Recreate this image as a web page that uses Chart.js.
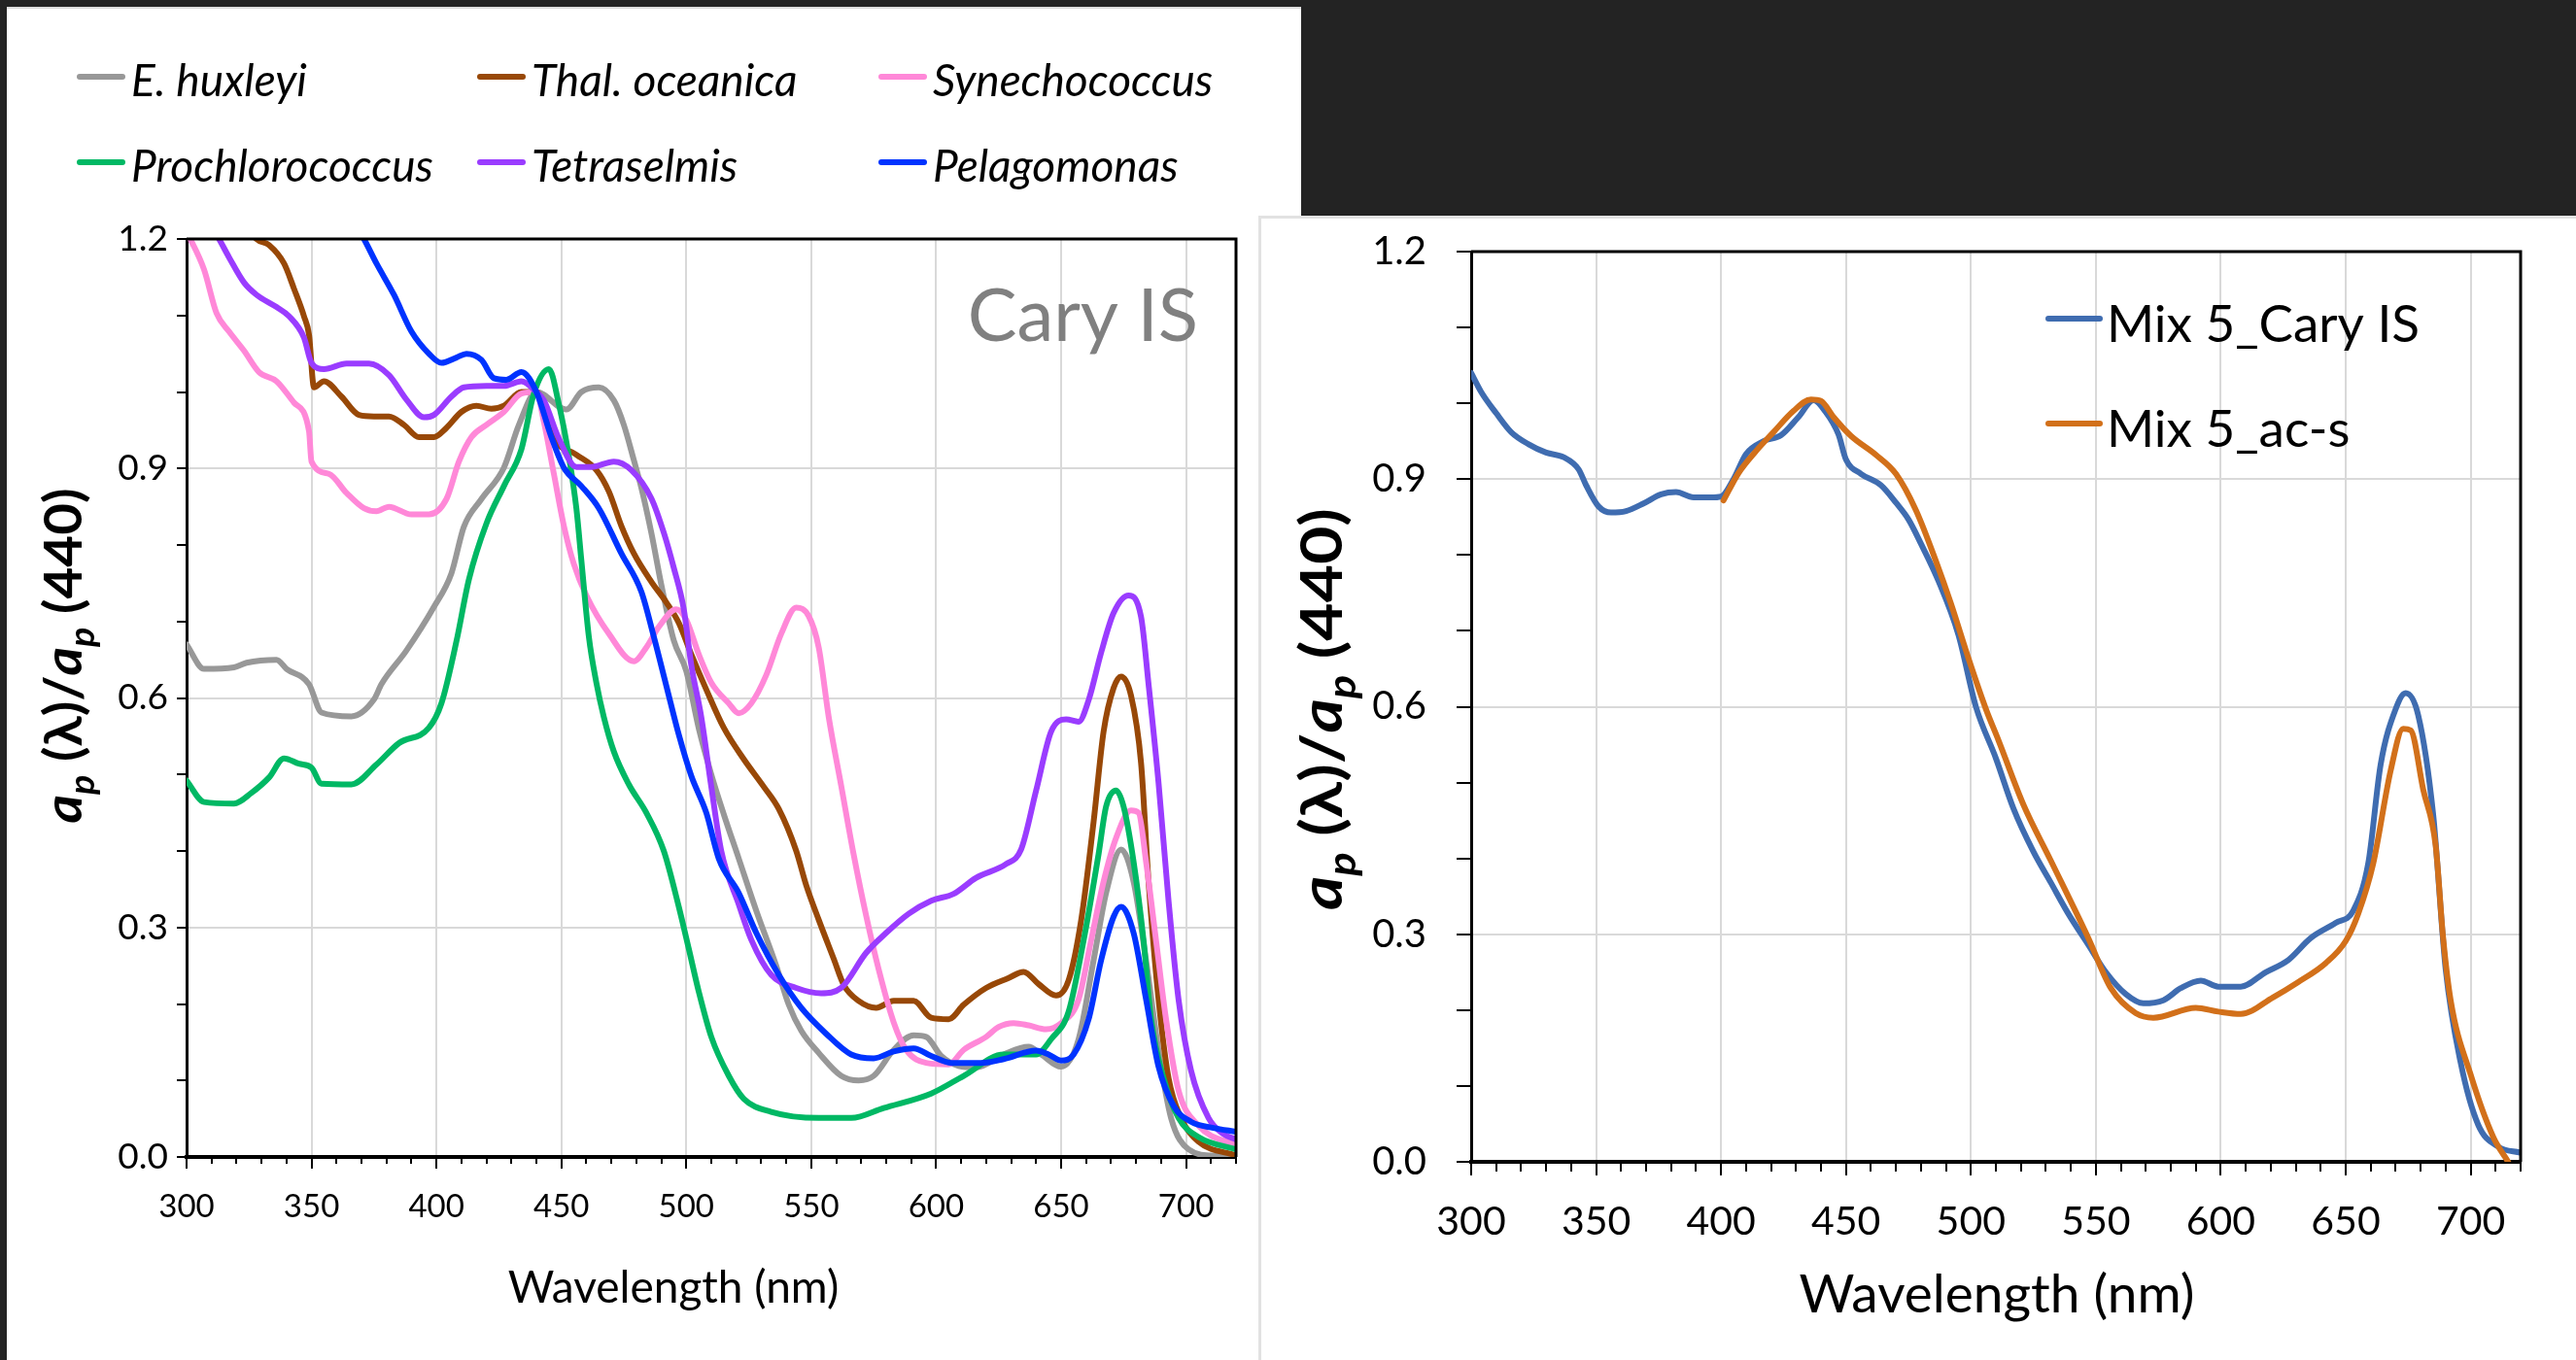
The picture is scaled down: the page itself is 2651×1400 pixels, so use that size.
<!DOCTYPE html>
<html>
<head>
<meta charset="utf-8">
<title>Normalized absorption spectra</title>
<script src="https://cdn.jsdelivr.net/npm/chart.js@4.4.1/dist/chart.umd.min.js"></script>
<style>
  html, body { margin: 0; padding: 0; background: #232323; }
  body { width: 2651px; height: 1400px; position: relative; overflow: hidden; font-family: Lato, sans-serif; }
  .panel { position: absolute; background: #fff; }
  #leftPanel { left: 7px; top: 7px; width: 1332px; height: 1393px; box-shadow: inset 0 2px 0 #dedede; }
  #rightPanel { left: 1295px; top: 222px; width: 1356px; height: 1178px; box-shadow: inset 3px 3px 0 #e2e2e2; }
  canvas { position: absolute; left: 0; top: 0; }
</style>
</head>
<body>
<div class="panel" id="leftPanel"><canvas id="left-chart" width="1332" height="1393"></canvas></div>
<div class="panel" id="rightPanel"><canvas id="right-chart" width="1356" height="1178"></canvas></div>
<script>
"use strict";

// axis ticks
let wlTicks = [300, 350, 400, 450, 500, 550, 600, 650, 700];
let apTicks = [0.0, 0.3, 0.6, 0.9, 1.2];

// wavelengths (nm) and a_p(λ)/a_p(440)

let huxleyiWl = [300,307,319,324,336,340,349,354,366,375,378,388,399,406,411,418,427,433,440,452,458,465,471,475,479,482,486,490,495,500,505,510,515,521,528,536,541,546,553,562,569,575,583,591,596,602,609,616,627,637,642,650,657,663,668,674,679,684,689,694,701,711,720];
let huxleyiAp = [0.670,0.638,0.640,0.646,0.650,0.638,0.618,0.581,0.576,0.598,0.618,0.662,0.719,0.763,0.824,0.860,0.901,0.957,1.000,0.977,1.000,1.006,0.989,0.957,0.911,0.875,0.816,0.748,0.675,0.635,0.560,0.500,0.448,0.390,0.322,0.250,0.199,0.165,0.136,0.106,0.100,0.106,0.140,0.159,0.157,0.132,0.119,0.117,0.134,0.144,0.134,0.118,0.154,0.257,0.345,0.402,0.360,0.257,0.139,0.051,0.010,0.002,0.002];

let thalWl = [300,315,328,333,339,343,347,349,351,355,362,369,375,381,387,393,399,404,410,416,422,427,434,440,447,456,464,469,474,479,486,492,497,502,508,515,523,531,537,544,548,553,559,563,569,576,583,591,598,605,611,620,629,635,641,648,653,658,663,667,671,674,678,682,685,689,693,698,705,720];
let thalAp = [1.32,1.26,1.20,1.192,1.168,1.135,1.099,1.075,1.006,1.014,0.994,0.970,0.968,0.968,0.957,0.941,0.941,0.953,0.974,0.982,0.978,0.982,1.000,1.000,0.939,0.918,0.898,0.870,0.825,0.789,0.752,0.725,0.698,0.657,0.611,0.561,0.520,0.484,0.455,0.400,0.355,0.310,0.259,0.225,0.204,0.195,0.204,0.204,0.182,0.180,0.199,0.221,0.234,0.242,0.226,0.211,0.231,0.309,0.438,0.556,0.613,0.628,0.603,0.515,0.360,0.206,0.103,0.051,0.020,0.002];

let synWl = [300,307,312,317,323,329,336,343,349,350,357,364,371,376,381,390,397,404,409,414,420,427,434,440,443,447,451,455,460,469,479,484,489,496,500,505,510,517,521,526,532,538,544,549,553,557,562,567,572,577,583,588,596,605,611,620,625,631,637,644,650,657,662,667,672,678,681,684,688,692,697,705,720];
let synAp = [1.21,1.16,1.103,1.079,1.054,1.026,1.014,0.986,0.949,0.909,0.893,0.868,0.848,0.844,0.850,0.840,0.840,0.860,0.909,0.941,0.957,0.974,0.998,1.000,0.961,0.893,0.825,0.775,0.734,0.684,0.648,0.666,0.693,0.716,0.702,0.657,0.620,0.593,0.580,0.593,0.630,0.684,0.718,0.707,0.666,0.575,0.485,0.395,0.315,0.245,0.176,0.140,0.123,0.121,0.140,0.157,0.170,0.175,0.172,0.167,0.175,0.206,0.283,0.360,0.417,0.453,0.450,0.386,0.283,0.180,0.087,0.041,0.015];

let prochWl = [300,307,319,326,333,339,345,350,354,366,376,385,397,402,408,413,420,427,434,439,445,449,453,456,458,461,464,467,471,477,484,491,497,501,505,510,517,523,534,553,566,579,598,611,627,640,646,653,659,665,668,672,675,679,683,686,691,697,705,720];
let prochAp = [0.492,0.464,0.462,0.476,0.496,0.521,0.514,0.509,0.488,0.487,0.513,0.541,0.561,0.593,0.674,0.755,0.828,0.877,0.925,0.998,1.030,0.984,0.916,0.848,0.780,0.680,0.620,0.575,0.530,0.487,0.450,0.400,0.327,0.272,0.216,0.157,0.106,0.076,0.059,0.051,0.051,0.064,0.083,0.106,0.134,0.134,0.154,0.190,0.283,0.396,0.458,0.479,0.458,0.386,0.283,0.180,0.103,0.051,0.026,0.010];

let tetraWl = [300,313,317,323,328,336,341,347,350,355,364,373,381,388,395,399,406,411,420,427,434,440,443,449,456,462,471,478,486,491,495,499,502,506,510,514,521,526,534,544,554,562,572,580,589,598,607,616,628,634,640,646,652,657,661,666,671,677,682,685,689,693,697,702,709,715,720];
let tetraAp = [1.27,1.20,1.176,1.143,1.127,1.111,1.099,1.071,1.038,1.030,1.037,1.037,1.022,0.990,0.967,0.970,0.994,1.006,1.008,1.008,1.014,1.000,0.989,0.939,0.902,0.902,0.909,0.898,0.861,0.816,0.770,0.716,0.643,0.575,0.484,0.400,0.330,0.284,0.238,0.221,0.214,0.221,0.267,0.293,0.318,0.335,0.344,0.365,0.383,0.402,0.479,0.556,0.572,0.569,0.597,0.659,0.711,0.734,0.706,0.618,0.489,0.335,0.206,0.113,0.051,0.030,0.023];

let pelagoWl = [300,340,371,376,383,390,397,402,408,412,418,423,428,434,440,446,451,458,465,474,482,487,492,497,502,508,513,521,528,537,546,556,566,575,583,591,598,606,618,627,640,645,650,655,661,666,671,674,679,684,689,695,702,711,720];
let pelagoAp = [1.58,1.37,1.20,1.168,1.127,1.079,1.050,1.038,1.045,1.050,1.042,1.018,1.016,1.026,1.000,0.941,0.901,0.877,0.848,0.789,0.739,0.680,0.616,0.552,0.498,0.450,0.390,0.345,0.293,0.238,0.195,0.161,0.134,0.129,0.138,0.142,0.132,0.123,0.123,0.128,0.139,0.134,0.126,0.134,0.180,0.257,0.314,0.327,0.293,0.206,0.118,0.067,0.046,0.038,0.033];

let caryWl = [300,304,310,316,323,330,337,343,346,351,356,362,369,376,382,389,396,400,405,410,417,424,431,437,442,447,450,456,464,470,475,480,487,495,502,510,517,525,532,539,547,554,562,569,577,584,592,599,608,618,627,636,646,653,659,664,670,674,679,685,690,696,703,711,720];
let caryAp = [1.040,1.015,0.987,0.962,0.946,0.935,0.929,0.913,0.892,0.864,0.856,0.858,0.868,0.880,0.883,0.876,0.876,0.877,0.900,0.933,0.950,0.958,0.982,1.004,0.988,0.959,0.926,0.907,0.892,0.869,0.847,0.815,0.766,0.695,0.600,0.532,0.466,0.409,0.368,0.327,0.286,0.250,0.221,0.209,0.213,0.229,0.239,0.231,0.231,0.250,0.266,0.295,0.315,0.331,0.393,0.524,0.597,0.618,0.589,0.458,0.254,0.131,0.049,0.020,0.012];

let acsWl = [401,407,414,421,429,436,440,445,452,462,470,478,486,492,499,506,511,521,532,547,556,566,573,590,599,608,621,631,642,650,655,661,668,673,676,681,686,689,692,700,709,715];
let acsAp = [0.872,0.908,0.937,0.962,0.990,1.005,1.003,0.982,0.957,0.932,0.907,0.859,0.792,0.736,0.664,0.597,0.556,0.471,0.397,0.295,0.229,0.196,0.190,0.203,0.198,0.195,0.217,0.237,0.262,0.291,0.327,0.393,0.516,0.571,0.569,0.491,0.417,0.295,0.213,0.115,0.033,0.000];

let leftNames = ["E. huxleyi", "Thal. oceanica", "Synechococcus", "Prochlorococcus", "Tetraselmis", "Pelagomonas"];
let leftColors = ["#989898", "#984807", "#ff88d8", "#00b864", "#9a3cff", "#0033ff"];
let rightNames = ["Mix 5_Cary IS", "Mix 5_ac-s"];
let rightColors = ["#3f6cb0", "#d2701a"];

function toPoints(wl, ap) {
  let pts = [];
  for (let i = 0; i < wl.length; i++) {
    pts.push({ x: wl[i], y: ap[i] });
  }
  return pts;
}

function makeLine(label, color, pts, order) {
  return {
    label: label,
    data: pts,
    borderColor: color,
    backgroundColor: color,
    borderWidth: 6,
    pointRadius: 0,
    cubicInterpolationMode: "monotone",
    borderJoinStyle: "round",
    borderCapStyle: "round",
    order: order,
  };
}

function isLabelled(v) {
  return apTicks.some(t => Math.abs(t - v) < 1e-6);
}

// the y title: a_p (λ)/a_p (440) with italic a and subscript p
function drawApTitle(ctx, t) {
  let s = t.size;
  let sub = Math.round(s * 0.66);
  let parts = [
    { txt: "a", font: "italic bold " + s + "px Lato", dy: 0 },
    { txt: "p", font: "italic bold " + sub + "px Lato", dy: s * 0.24 },
    { txt: " (λ)/", font: "bold " + s + "px Lato", dy: 0 },
    { txt: "a", font: "italic bold " + s + "px Lato", dy: 0 },
    { txt: "p", font: "italic bold " + sub + "px Lato", dy: s * 0.24 },
    { txt: " (440)", font: "bold " + s + "px Lato", dy: 0 },
  ];
  let total = 0;
  for (let p of parts) {
    ctx.font = p.font;
    p.w = ctx.measureText(p.txt).width;
    total += p.w;
  }
  ctx.save();
  ctx.translate(t.x, t.y);
  ctx.rotate(-Math.PI / 2);
  ctx.scale(t.length / total, 1);
  ctx.fillStyle = "#000";
  ctx.textBaseline = "alphabetic";
  ctx.textAlign = "left";
  let x = -total / 2;
  for (let p of parts) {
    ctx.font = p.font;
    ctx.fillText(p.txt, x, p.dy);
    x += p.w;
  }
  ctx.restore();
}

// frame, minor ticks, titles and legend
function makeDecor(cfg) {
  return {
    id: "decor",
    afterDraw(chart) {
      let ctx = chart.ctx;
      let a = chart.chartArea;
      let xs = chart.scales.x;
      ctx.save();

      ctx.strokeStyle = "#000";
      ctx.lineWidth = 3;
      ctx.beginPath();
      ctx.moveTo(a.left, a.top);
      ctx.lineTo(a.right, a.top);
      ctx.lineTo(a.right, a.bottom);
      ctx.stroke();

      ctx.lineWidth = 2;
      ctx.beginPath();
      for (let w = 310; w <= 720; w += 10) {
        if (w % 50 === 0) continue;
        let px = Math.round(xs.getPixelForValue(w));
        ctx.moveTo(px, a.bottom);
        ctx.lineTo(px, a.bottom + cfg.minorLen);
      }
      ctx.stroke();

      ctx.fillStyle = "#000";
      ctx.textAlign = "center";
      ctx.textBaseline = "alphabetic";
      ctx.font = cfg.xTitle.font;
      ctx.fillText("Wavelength (nm)", cfg.xTitle.x, cfg.xTitle.y);

      drawApTitle(ctx, cfg.yTitle);

      if (cfg.note) {
        ctx.fillStyle = cfg.note.color;
        ctx.textAlign = "right";
        ctx.font = cfg.note.font;
        ctx.fillText(cfg.note.text, cfg.note.x, cfg.note.y);
      }

      let lg = cfg.legend;
      let sets = chart.data.datasets;
      for (let i = 0; i < sets.length; i++) {
        let cx = lg.cols[i % lg.cols.length];
        let cy = lg.rows[Math.floor(i / lg.cols.length)];
        ctx.strokeStyle = sets[i].borderColor;
        ctx.lineWidth = lg.symWidth;
        ctx.lineCap = "round";
        ctx.beginPath();
        ctx.moveTo(cx + 3, cy);
        ctx.lineTo(cx + lg.symLen - 3, cy);
        ctx.stroke();
        ctx.fillStyle = "#000";
        ctx.textAlign = "left";
        ctx.font = lg.font;
        ctx.fillText(sets[i].label, cx + lg.symLen + lg.gap, cy + lg.dy);
      }
      ctx.restore();
    },
  };
}

function spectrumOptions(s) {
  return {
    responsive: false,
    animation: false,
    layout: { padding: { left: 0, top: s.top, right: s.right, bottom: 0 } },
    plugins: { legend: { display: false }, tooltip: { enabled: false } },
    scales: {
      x: {
        type: "linear",
        min: 300,
        max: 720,
        afterBuildTicks(scale) {
          scale.ticks = wlTicks.map(v => ({ value: v }));
        },
        afterFit(scale) {
          scale.height = s.xHeight;
          scale.paddingLeft = 0;
          scale.paddingRight = 0;
        },
        ticks: {
          autoSkip: false,
          maxRotation: 0,
          color: "#000",
          padding: s.xTickPad,
          font: { family: "Lato", size: s.xTickSize },
        },
        grid: { color: "#d9d9d9", lineWidth: 2, tickColor: "#000", tickWidth: 2, tickLength: s.xTickLen },
        border: { color: "#000", width: 4 },
      },
      y: {
        min: 0,
        max: 1.2,
        afterFit(scale) {
          scale.width = s.yWidth;
          scale.paddingTop = 0;
          scale.paddingBottom = 0;
        },
        ticks: {
          stepSize: 0.1,
          autoSkip: false,
          color: "#000",
          padding: s.yTickPad,
          font: { family: "Lato", size: s.yTickSize },
          callback: v => (isLabelled(v) ? v.toFixed(1) : ""),
        },
        grid: {
          color: c => (c.tick && isLabelled(c.tick.value) ? "#d9d9d9" : "rgba(0,0,0,0)"),
          lineWidth: 2,
          tickColor: "#000",
          tickWidth: 2,
          tickLength: s.yTickLen,
        },
        border: { color: "#000", width: 3 },
      },
    },
  };
}

// left panel: six cultures
let leftSeries = [
  toPoints(huxleyiWl, huxleyiAp),
  toPoints(thalWl, thalAp),
  toPoints(synWl, synAp),
  toPoints(prochWl, prochAp),
  toPoints(tetraWl, tetraAp),
  toPoints(pelagoWl, pelagoAp),
];
let leftSets = [];
for (let i = 0; i < leftSeries.length; i++) {
  leftSets.push(makeLine(leftNames[i], leftColors[i], leftSeries[i], leftSeries.length - 1 - i));
}

new Chart(document.getElementById("left-chart"), {
  type: "line",
  data: { datasets: leftSets },
  options: spectrumOptions({
    top: 239, right: 67, yWidth: 185, xHeight: 209,
    xTickSize: 33, xTickPad: 20, xTickLen: 12,
    yTickSize: 37, yTickPad: 9, yTickLen: 10,
  }),
  plugins: [makeDecor({
    minorLen: 7,
    xTitle: { x: 686, y: 1334, font: "46px Lato" },
    yTitle: { x: 77, y: 668, size: 54, length: 345 },
    note: { text: "Cary IS", x: 1226, y: 344, font: "76px Lato", color: "#808080" },
    legend: { cols: [72, 484, 897], rows: [72, 160], symLen: 50, gap: 6, symWidth: 6, dy: 20, font: "italic 46px Lato" },
  })],
});

// right panel: mixture, two instruments
let rightSets = [
  makeLine(rightNames[0], rightColors[0], toPoints(caryWl, caryAp), 1),
  makeLine(rightNames[1], rightColors[1], toPoints(acsWl, acsAp), 0),
];

new Chart(document.getElementById("right-chart"), {
  type: "line",
  data: { datasets: rightSets },
  options: spectrumOptions({
    top: 37, right: 57, yWidth: 219, xHeight: 204,
    xTickSize: 41, xTickPad: 23, xTickLen: 14,
    yTickSize: 40, yTickPad: 31, yTickLen: 15,
  }),
  plugins: [makeDecor({
    minorLen: 10,
    xTitle: { x: 760, y: 1129, font: "55px Lato" },
    yTitle: { x: 86, y: 508, size: 60, length: 414 },
    note: null,
    legend: { cols: [810], rows: [106, 214], symLen: 59, gap: 4, symWidth: 6, dy: 24, font: "53px Lato" },
  })],
});
</script>
</body>
</html>
